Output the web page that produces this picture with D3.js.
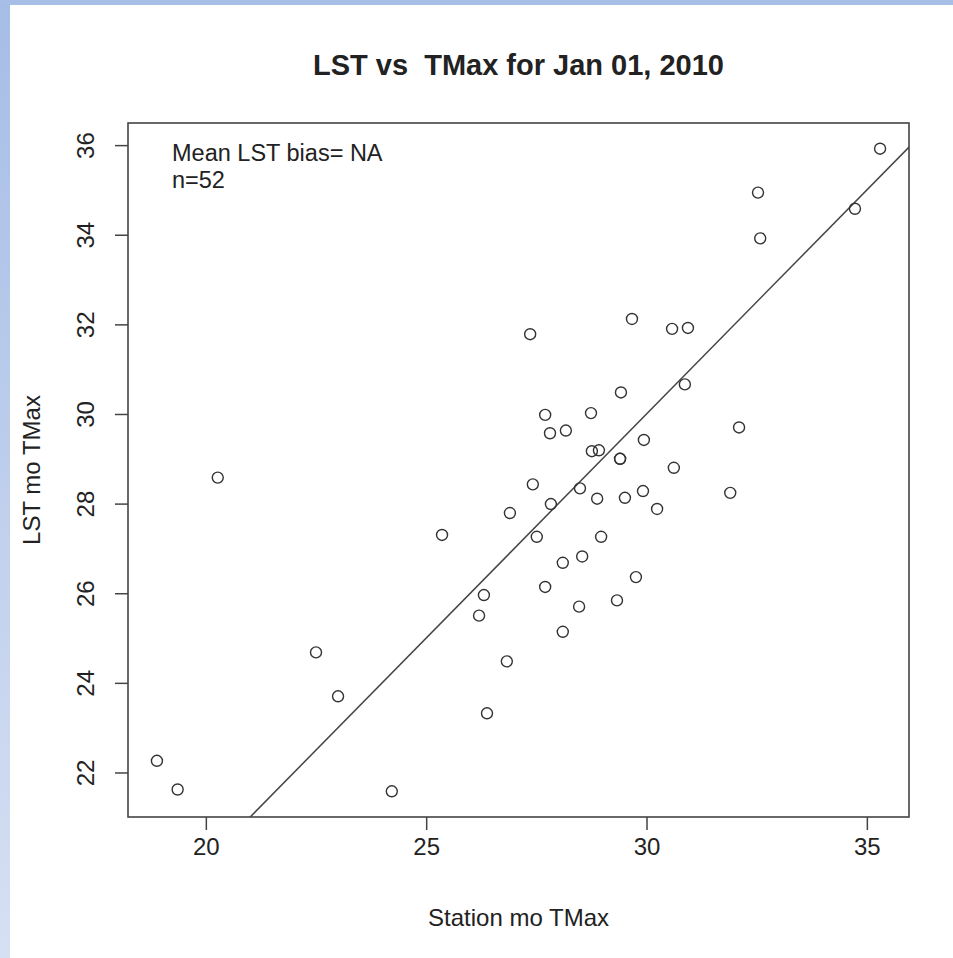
<!DOCTYPE html>
<html>
<head>
<meta charset="utf-8">
<script src="https://cdn.jsdelivr.net/npm/d3@7"></script>
<style>
    body { margin: 0; background: #fff; }
    #chart { width: 953px; height: 958px; }
    text { font-family: "Liberation Sans", Arial, sans-serif; fill: #222; }
</style>
</head>
<body>
<div id="chart"></div>
<script>
// station TMax (x) vs LST TMax (y)
const stationTmax = [18.89, 19.36, 20.27, 22.50, 23.00, 24.22, 25.36, 26.20, 26.31, 26.38,
    26.83, 26.90, 27.36, 27.42, 27.51, 27.70, 27.70, 27.81, 27.83, 28.10,
    28.10, 28.17, 28.47, 28.49, 28.54, 28.74, 28.76, 28.88, 28.92, 28.97,
    29.33, 29.40, 29.40, 29.42, 29.51, 29.67, 29.76, 29.92, 29.94, 30.24,
    30.58, 30.62, 30.87, 30.94, 31.90, 32.10, 32.53, 32.58, 34.73, 35.30];
const lstTmax = [22.26, 21.62, 28.58, 24.68, 23.70, 21.58, 27.30, 25.50, 25.96, 23.32,
    24.48, 27.79, 31.78, 28.43, 27.26, 29.98, 26.14, 29.57, 27.99, 25.14,
    26.68, 29.63, 25.70, 28.34, 26.82, 30.02, 29.17, 28.11, 29.19, 27.26,
    25.84, 29.00, 29.00, 30.48, 28.13, 32.12, 26.36, 28.28, 29.42, 27.88,
    31.90, 28.80, 30.66, 31.92, 28.24, 29.70, 34.94, 33.92, 34.58, 35.92];

const xTicks = [20, 25, 30, 35];
const yTicks = [22, 24, 26, 28, 30, 32, 34, 36];

const titleText = "LST vs  TMax for Jan 01, 2010";
const xLabel = "Station mo TMax";
const yLabel = "LST mo TMax";
const notes = ["Mean LST bias= NA", "n=52"];

const points = stationTmax.map((d, i) => ({x: d, y: lstTmax[i]}));

const W = 953, H = 958;
const plot = {left: 128, right: 909, top: 123, bottom: 817};

const svg = d3.select("#chart").append("svg")
    .attr("width", W)
    .attr("height", H);

// blue frame strips from the page around the image
const defs = svg.append("defs");
const grad = defs.append("linearGradient")
    .attr("id", "sideGrad")
    .attr("x1", 0).attr("y1", 0).attr("x2", 0).attr("y2", 1);
grad.append("stop").attr("offset", "0%").attr("stop-color", "#a6bde6");
grad.append("stop").attr("offset", "100%").attr("stop-color", "#d6e0f3");

svg.append("rect").attr("x", 0).attr("y", 0).attr("width", 10).attr("height", H)
    .attr("fill", "url(#sideGrad)");
svg.append("rect").attr("x", 0).attr("y", 0).attr("width", W).attr("height", 5)
    .attr("fill", "#a7bfe7");

defs.append("clipPath").attr("id", "plotClip")
    .append("rect")
    .attr("x", plot.left).attr("y", plot.top)
    .attr("width", plot.right - plot.left)
    .attr("height", plot.bottom - plot.top);

// R style 4% padding of the data range
function padded(ext) {
    let p = (ext[1] - ext[0]) * 0.04;
    return [ext[0] - p, ext[1] + p];
}

const x = d3.scaleLinear()
    .domain(padded(d3.extent(stationTmax)))
    .range([plot.left, plot.right]);

const y = d3.scaleLinear()
    .domain(padded(d3.extent(lstTmax)))
    .range([plot.bottom, plot.top]);

const ink = "#444";

// x axis
const xAxis = d3.axisBottom(x).tickValues(xTicks).tickSize(13).tickPadding(8).tickFormat(d3.format("d"));
const gx = svg.append("g")
    .attr("transform", `translate(0, ${plot.bottom})`)
    .call(xAxis);
gx.select(".domain").remove();
gx.selectAll(".tick line").attr("stroke", ink).attr("stroke-width", 1.5);
gx.selectAll(".tick text")
    .attr("font-size", 24)
    .attr("font-family", "Liberation Sans, Arial, sans-serif")
    .attr("fill", "#222");

// y axis, labels turned like R does
const yAxis = d3.axisLeft(y).tickValues(yTicks).tickSize(13).tickFormat(d3.format("d"));
const gy = svg.append("g")
    .attr("transform", `translate(${plot.left}, 0)`)
    .call(yAxis);
gy.select(".domain").remove();
gy.selectAll(".tick line").attr("stroke", ink).attr("stroke-width", 1.5);
gy.selectAll(".tick text")
    .attr("x", null).attr("dy", null)
    .attr("transform", "translate(-34, 0) rotate(-90)")
    .attr("text-anchor", "middle")
    .attr("font-size", 24)
    .attr("font-family", "Liberation Sans, Arial, sans-serif")
    .attr("fill", "#222");

// 1:1 line
const lo = Math.min(x.domain()[0], y.domain()[0]);
const hi = Math.max(x.domain()[1], y.domain()[1]);
svg.append("line")
    .attr("clip-path", "url(#plotClip)")
    .attr("x1", x(lo)).attr("y1", y(lo))
    .attr("x2", x(hi)).attr("y2", y(hi))
    .attr("stroke", ink)
    .attr("stroke-width", 1.5);

// points
svg.append("g")
    .selectAll("circle")
    .data(points)
    .join("circle")
    .attr("cx", d => x(d.x))
    .attr("cy", d => y(d.y))
    .attr("r", 5.5)
    .attr("fill", "none")
    .attr("stroke", "#333")
    .attr("stroke-width", 1.4);

// plot box
svg.append("rect")
    .attr("x", plot.left).attr("y", plot.top)
    .attr("width", plot.right - plot.left)
    .attr("height", plot.bottom - plot.top)
    .attr("fill", "none")
    .attr("stroke", ink)
    .attr("stroke-width", 1.6);

// title
svg.append("text")
    .attr("x", (plot.left + plot.right) / 2)
    .attr("y", 75)
    .attr("text-anchor", "middle")
    .attr("font-size", 29)
    .attr("font-weight", "bold")
    .attr("fill", "#111")
    .style("white-space", "pre")
    .text(titleText);

// axis titles
svg.append("text")
    .attr("x", (plot.left + plot.right) / 2)
    .attr("y", 926)
    .attr("text-anchor", "middle")
    .attr("font-size", 24)
    .text(xLabel);

svg.append("text")
    .attr("transform", `translate(40, ${(plot.top + plot.bottom) / 2}) rotate(-90)`)
    .attr("text-anchor", "middle")
    .attr("font-size", 24)
    .text(yLabel);

// notes in the top left corner
svg.selectAll(".note")
    .data(notes)
    .join("text")
    .attr("class", "note")
    .attr("x", 172)
    .attr("y", (d, i) => 161 + i * 27)
    .attr("font-size", 23.5)
    .text(d => d);
</script>
</body>
</html>
